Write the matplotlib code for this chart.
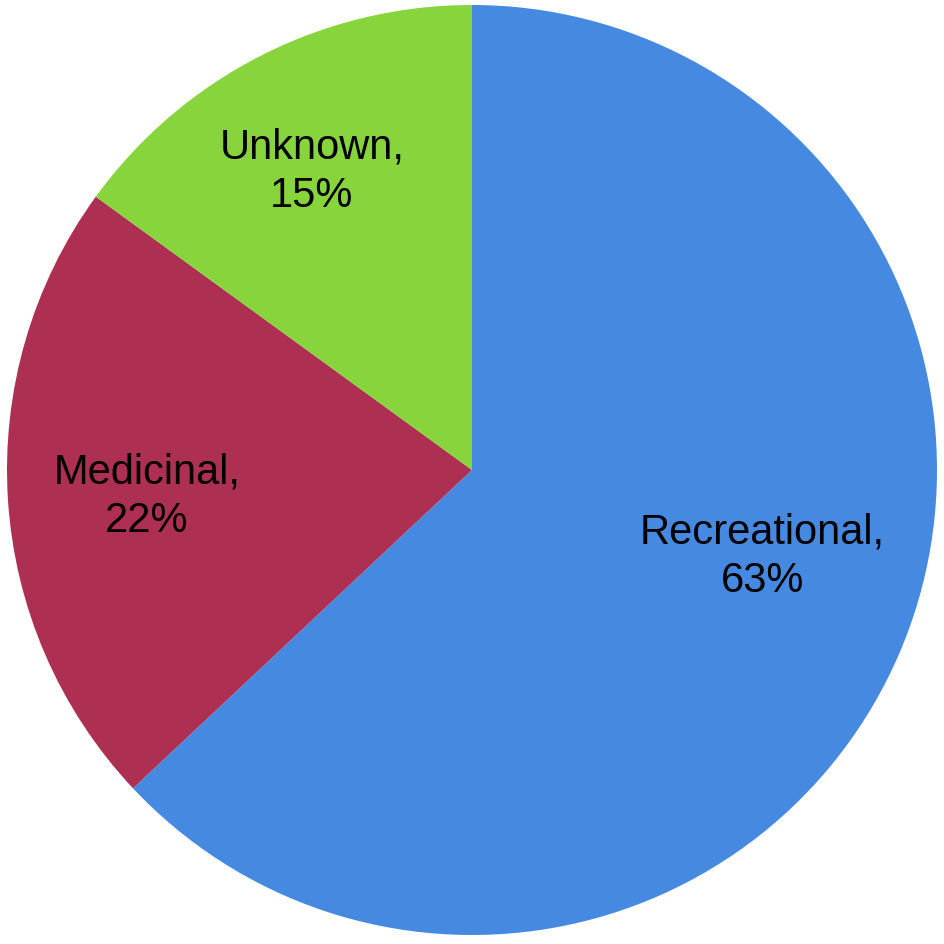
import matplotlib
matplotlib.use("Agg")
import matplotlib.pyplot as plt

categories = ["Recreational", "Medicinal", "Unknown"]
values = [63, 22, 15]
colors = ["#4689E1", "#AD3052", "#88D43C"]
label_pos = [(0.624, -0.186), (-0.699, -0.058), (-0.344, 0.641)]

plt.rcParams['font.family'] = ['Liberation Sans', 'DejaVu Sans']
fig = plt.figure(figsize=(9.45, 9.44), dpi=100)
ax = fig.add_axes([0, 0, 1, 1])
ax.pie(values, colors=colors, startangle=90, counterclock=False, radius=1,
       wedgeprops=dict(linewidth=0))
r = 465.0
ax.set_aspect('auto')
ax.set_xlim(-472 / r, (945 - 472) / r)
ax.set_ylim(-(944 - 470) / r, 470 / r)
ax.axis('off')
for cat, v, (x, y) in zip(categories, values, label_pos):
    ax.text(x, y, f"{cat},\n{v}%", ha='center', va='center', fontsize=30,
            color='black', linespacing=1.28)
fig.savefig("out.png", dpi=100)
